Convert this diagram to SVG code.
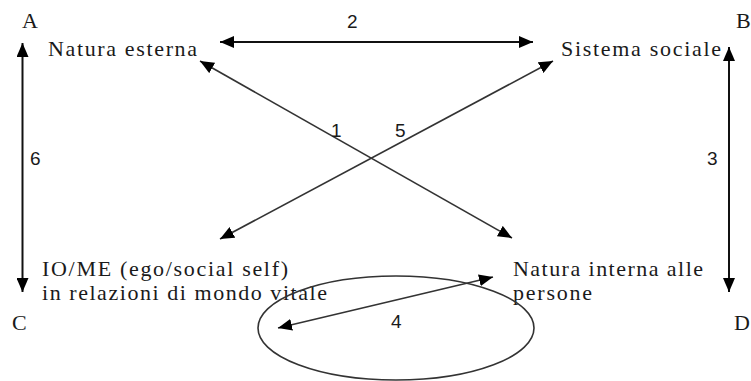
<svg xmlns="http://www.w3.org/2000/svg" width="751" height="381" viewBox="0 0 751 381">
  <style>
    .serif { font-family: "Liberation Serif", "Times New Roman", serif; font-size: 22px; fill: #1a1a1a; }
    .num { font-family: "Liberation Sans", Arial, sans-serif; font-size: 19px; fill: #1a1a1a; }
    .conn { stroke: #111; stroke-width: 2; fill: none; }
    .diag { stroke: #333; stroke-width: 1.6; fill: none; }
  </style>
  <defs>
    <marker id="ah" viewBox="0 0 14 12" refX="14" refY="6" markerWidth="14" markerHeight="12" markerUnits="userSpaceOnUse" orient="auto-start-reverse">
      <path d="M0,0 L14,6 L0,12 z" fill="#000"/>
    </marker>
  </defs>

  <g id="corner-A"><text class="serif" x="22" y="28">A</text></g>
  <g id="corner-B"><text class="serif" x="736" y="28">B</text></g>
  <g id="corner-C"><text class="serif" x="12" y="330">C</text></g>
  <g id="corner-D"><text class="serif" x="734" y="330">D</text></g>

  <g id="natura-esterna"><text class="serif" x="48" y="56" textLength="149" lengthAdjust="spacing">Natura esterna</text></g>
  <g id="sistema-sociale"><text class="serif" x="561" y="56" textLength="160" lengthAdjust="spacing">Sistema sociale</text></g>
  <g id="io-me">
    <text class="serif" x="42" y="276" textLength="246" lengthAdjust="spacing">IO/ME (ego/social self)</text>
    <text class="serif" x="42" y="300" textLength="285" lengthAdjust="spacing">in relazioni di mondo vitale</text>
  </g>
  <g id="natura-interna">
    <text class="serif" x="513" y="276" textLength="190" lengthAdjust="spacing">Natura interna alle</text>
    <text class="serif" x="513" y="300" textLength="79" lengthAdjust="spacing">persone</text>
  </g>

  <g id="cerchio-4">
    <ellipse cx="396" cy="328" rx="138" ry="52" fill="none" stroke="#333" stroke-width="1.6"/>
  </g>

  <g id="connectors">
    <line class="conn" x1="220" y1="42" x2="533" y2="42" marker-start="url(#ah)" marker-end="url(#ah)"/>
    <line class="conn" x1="22.5" y1="43" x2="22.5" y2="292" marker-start="url(#ah)" marker-end="url(#ah)"/>
    <line class="conn" x1="729" y1="47" x2="729" y2="292" marker-start="url(#ah)" marker-end="url(#ah)"/>
    <line class="diag" x1="200" y1="61" x2="512" y2="238" marker-start="url(#ah)" marker-end="url(#ah)"/>
    <line class="diag" x1="553" y1="61" x2="220" y2="239" marker-start="url(#ah)" marker-end="url(#ah)"/>
    <line class="diag" x1="278" y1="328" x2="493" y2="277" marker-start="url(#ah)" marker-end="url(#ah)"/>
    <text class="num" x="347" y="28">2</text>
    <text class="num" x="331" y="137">1</text>
    <text class="num" x="395" y="137">5</text>
    <text class="num" x="30" y="165">6</text>
    <text class="num" x="707" y="165">3</text>
    <text class="num" x="391" y="328">4</text>
  </g>
</svg>
